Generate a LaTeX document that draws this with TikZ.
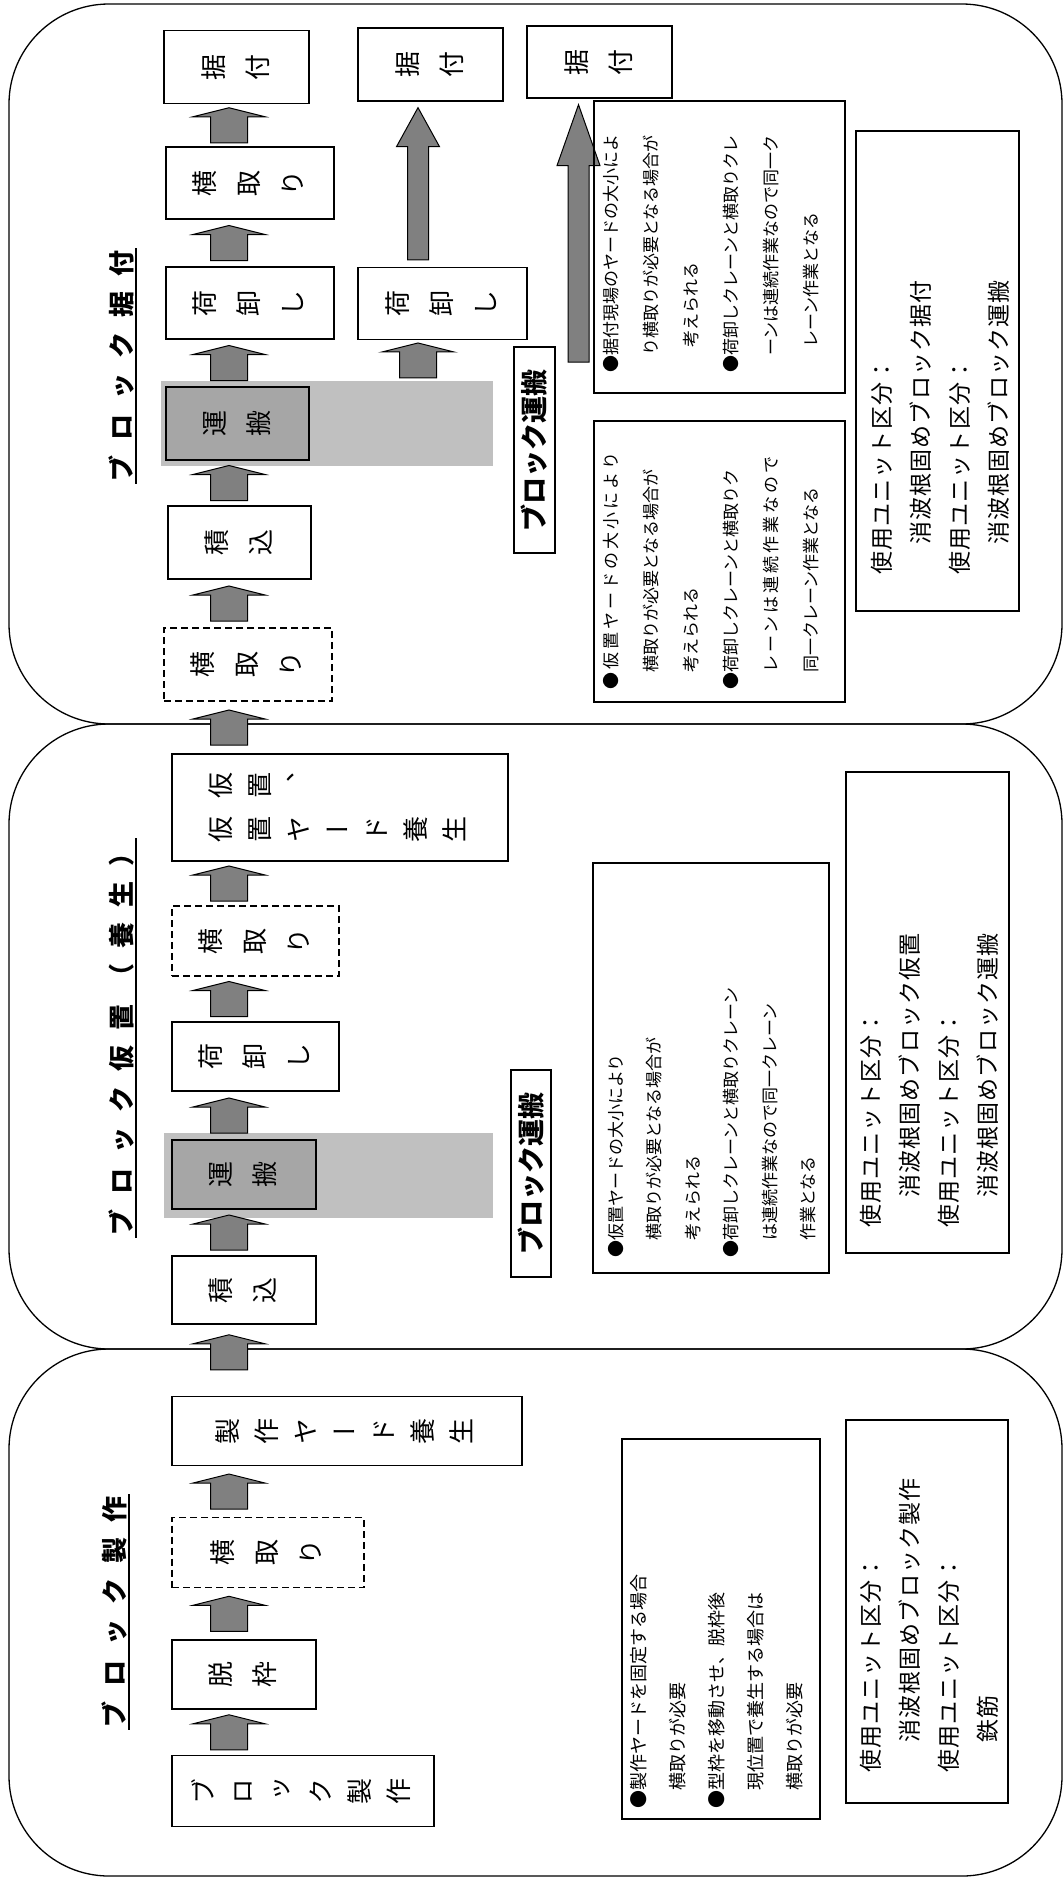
\documentclass[tikz,border=0pt]{standalone}
\usepackage{fontspec}
\usepackage{graphicx}
\setmainfont{Noto Sans CJK JP}
\newfontfamily\jp{Noto Sans CJK JP}
\newfontfamily\jptate[RawFeature=+vert]{Noto Sans CJK JP}
\usetikzlibrary{calc}

\definecolor{arrowgray}{HTML}{808080}
\definecolor{boxgray}{HTML}{A6A6A6}
\definecolor{bandgray}{HTML}{C0C0C0}

\newcommand{\tate}[1]{\rotatebox{90}{\begin{tabular}{@{}c@{}}#1\end{tabular}}}
\newcommand{\gp}{\hspace{15pt}}
\newcommand{\wide}[1]{{\addfontfeature{LetterSpace=18}#1}}
% block arrow, centred in the gap between two boxes
\newcommand{\blkarr}[4][0pt]{%
  \draw[blkarrow] let \p1=($(#2.north -| #4)!0.5!(#3.south -| #4)$) in
    (\x1-18.5pt,\y1-17.5pt+#1) -- (\x1-18.5pt,\y1+8.5pt+#1) -- (\x1-36pt,\y1+8.5pt+#1)
    -- (\x1,\y1+17.5pt+#1) -- (\x1+36pt,\y1+8.5pt+#1) -- (\x1+18.5pt,\y1+8.5pt+#1)
    -- (\x1+18.5pt,\y1-17.5pt+#1) -- cycle;}
% long slim arrow
\newcommand{\slimarr}[3]{%
  \draw[blkarrow] let \p1=(#1), \p2=(#2) in
    (\x2-10.5pt,\y1+7pt) -- (\x2-10.5pt,\y2-6pt-#3) -- (\x2-21.5pt,\y2-6pt-#3)
    -- (\x2,\y2-6pt) -- (\x2+21.5pt,\y2-6pt-#3) -- (\x2+10.5pt,\y2-6pt-#3)
    -- (\x2+10.5pt,\y1+7pt) -- cycle;}

\tikzset{
  panel/.style={draw, line width=1.3pt, rounded corners=100pt},
  flowbox/.style={draw, line width=1.3pt, fill=white, inner sep=0pt,
    font=\jptate\fontsize{26}{44}\selectfont},
  longbox/.style={flowbox, font=\jptate\fontsize{26}{39}\selectfont},
  dashbox/.style={flowbox, dash pattern=on 7pt off 4pt},
  carrybox/.style={flowbox, fill=boxgray},
  band/.style={fill=bandgray, inner sep=0pt},
  blkarrow/.style={draw, line width=1pt, fill=arrowgray},
  notebox/.style={draw, line width=1.8pt, inner sep=0pt},
  unitbox/.style={draw, line width=1.3pt, inner sep=0pt},
  notetext/.style={rotate=90, anchor=north west, align=left, inner sep=0pt,
    font=\jp\fontsize{17}{40}\selectfont},
  unittext/.style={rotate=90, anchor=north west, align=left, inner sep=0pt,
    font=\jp\fontsize{23}{39}\selectfont\addfontfeature{LetterSpace=5}},
  title/.style={inner sep=2pt, font=\jp\bfseries\fontsize{26}{30}\selectfont},
  labelbox/.style={draw, line width=1.3pt, inner sep=0pt,
    font=\jp\bfseries\fontsize{27}{30}\selectfont},
}

\begin{document}
\begin{tikzpicture}[x=1pt, y=-1pt]
  \useasboundingbox (0,0) rectangle (1064,1879);

  \coordinate (c1) at (229,0);
  \coordinate (c2) at (418,0);
  \coordinate (c3) at (578.5,0);
  \coordinate (c3low) at (578.5,369);

  % panels
  \draw[panel] (9,4) rectangle (1062,724);
  \draw[panel] (9,724) rectangle (1062,1349);
  \draw[panel] (9,1349) rectangle (1062,1876);

  % titles
  \node[title] (t3) at (121,366) {\rotatebox{90}{ブ\gp ロ\gp ッ\gp ク\gp 据\gp 付}};
  \node[title] (t2) at (121,1038) {\rotatebox{90}{ブ\gp ロ\gp ッ\gp ク\gp 仮\gp 置\gp （\gp 養\gp 生\gp ）}};
  \node[title] (t1) at (114,1612) {\rotatebox{90}{ブ\gp ロ\gp ッ\gp ク\gp 製\gp 作}};
  \draw[line width=1.3pt] (t3.north east) -- (t3.south east);
  \draw[line width=1.3pt] (t2.north east) -- (t2.south east);
  \draw[line width=1.3pt] (t1.north east) -- (t1.south east);

  % transport bands
  \node[band, minimum width=332pt, minimum height=85pt] (band3) at (327,423.5) {};
  \node[band, minimum width=329pt, minimum height=85pt] (band2) at (328.5,1175.5) {};

  % block setting
  \node[flowbox, minimum width=145pt, minimum height=73pt] (sue1) at (236.5,67) {\tate{据\\付}};
  \node[flowbox, minimum width=168pt, minimum height=72pt] (yoko1) at (250,183) {\tate{横\\取\\り}};
  \node[flowbox, minimum width=168pt, minimum height=72pt] (nioro1) at (250,303) {\tate{荷\\卸\\し}};
  \node[carrybox, minimum width=143pt, minimum height=73pt] (unpan1) at (237.5,423.5) {\tate{運\\搬}};
  \node[flowbox, minimum width=143pt, minimum height=73pt] (tumi1) at (239.5,542.5) {\tate{積\\込}};
  \node[dashbox, minimum width=168pt, minimum height=73pt] (yoko2) at (248,664.5) {\tate{横\\取\\り}};
  \node[flowbox, minimum width=145pt, minimum height=73pt] (sue2) at (430.5,64.5) {\tate{据\\付}};
  \node[flowbox, minimum width=169pt, minimum height=72pt] (nioro2) at (442.5,303.5) {\tate{荷\\卸\\し}};
  \node[flowbox, minimum width=145pt, minimum height=72pt] (sue3) at (599.5,62) {\tate{据\\付}};
  \node[labelbox, minimum width=41pt, minimum height=206pt] (lab3) at (534.5,450) {\rotatebox{90}{ブロック運搬}};

  % block temporary storage
  \node[longbox, minimum width=336pt, minimum height=107pt] (kari) at (340,807.5)
    {\rotatebox{90}{\begin{tabular}{@{}c@{\hspace{18pt}}c@{}}
      仮&仮\\ 置&置\\ ヤ&、\\ ー&\\ ド&\\ 養&\\ 生&
    \end{tabular}}};
  \node[dashbox, minimum width=167pt, minimum height=70pt] (yoko3) at (255.5,941) {\tate{横\\取\\り}};
  \node[flowbox, minimum width=167pt, minimum height=69pt] (nioro3) at (255.5,1056.5) {\tate{荷\\卸\\し}};
  \node[carrybox, minimum width=144pt, minimum height=69pt] (unpan2) at (244,1174.5) {\tate{運\\搬}};
  \node[flowbox, minimum width=144pt, minimum height=68pt] (tumi2) at (244,1290) {\tate{積\\込}};
  \node[labelbox, minimum width=40pt, minimum height=207pt] (lab2) at (531,1173.5) {\rotatebox{90}{ブロック運搬}};

  % block making
  \node[longbox, minimum width=350pt, minimum height=69pt] (yard) at (347,1431) {\tate{製\\作\\ヤ\\ー\\ド\\養\\生}};
  \node[dashbox, minimum width=192pt, minimum height=70pt] (yoko4) at (268,1552.5) {\tate{横\\取\\り}};
  \node[flowbox, minimum width=144pt, minimum height=69pt] (datu) at (244,1674.5) {\tate{脱\\枠}};
  \node[longbox, minimum width=262pt, minimum height=71pt] (seisaku) at (303,1791) {\tate{ブ\\ロ\\ッ\\ク\\製\\作}};

  % arrows
  \blkarr{yoko1}{sue1}{c1}
  \blkarr{nioro1}{yoko1}{c1}
  \blkarr{unpan1}{nioro1}{c1}
  \blkarr{tumi1}{unpan1}{c1}
  \blkarr{yoko2}{tumi1}{c1}
  \blkarr{kari}{yoko2}{c1}
  \blkarr{yoko3}{kari}{c1}
  \blkarr{nioro3}{yoko3}{c1}
  \blkarr{unpan2}{nioro3}{c1}
  \blkarr{tumi2}{unpan2}{c1}
  \blkarr[8pt]{yard}{tumi2}{c1}
  \blkarr{yoko4}{yard}{c1}
  \blkarr{datu}{yoko4}{c1}
  \blkarr{seisaku}{datu}{c1}
  \blkarr{band3}{nioro2}{c2}
  \slimarr{nioro2.north -| c2}{sue2.south -| c2}{39pt}
  \slimarr{c3low}{sue3.south -| c3}{61pt}

  % notes
  \node[notebox, minimum width=251pt, minimum height=292pt] (noteA) at (719.5,247) {};
  \node[notetext] (noteAt) at (603,373) {●据付現場のヤードの大小によ\\
    　り横取りが必要となる場合が\\
    \hspace*{1.5em}考えられる\\
    ●荷卸しクレーンと横取りクレ\\
    　ーンは連続作業なので同一ク\\
    \hspace*{1.5em}レーン作業となる};
  \node[notebox, minimum width=251pt, minimum height=281pt] (noteB) at (719.5,561.5) {};
  \node[notetext] (noteBt) at (603,690) {\wide{●仮置ヤードの大小により}\\
    　横取りが必要となる場合が\\
    　考えられる\\
    ●荷卸しクレーンと横取りク\\
    　\wide{レーンは連続作業なので}\\
    　同一クレーン作業となる};
  \node[notebox, minimum width=236pt, minimum height=410pt] (noteC) at (711,1068) {};
  \node[notetext, font=\jp\fontsize{17}{38.5}\selectfont] (noteCt) at (608,1258) {●仮置ヤードの大小により\\
    　横取りが必要となる場合が\\
    　考えられる\\
    ●荷卸しクレーンと横取りクレーン\\
    　は連続作業なので同一クレーン\\
    　作業となる};
  \node[notebox, minimum width=198pt, minimum height=380pt] (noteD) at (721,1629) {};
  \node[notetext, font=\jp\fontsize{18}{39}\selectfont] (noteDt) at (630,1809) {●製作ヤードを固定する場合\\
    　横取りが必要\\
    ●型枠を移動させ、脱枠後\\
    　現位置で養生する場合は\\
    　横取りが必要};

  % units
  \node[unitbox, minimum width=163pt, minimum height=480pt] (unit3) at (937.5,371) {};
  \node[unittext] (unit3t) at (871,575) {使用ユニット区分：\\
    \hspace*{30pt}消波根固めブロック据付\\
    使用ユニット区分：\\
    \hspace*{30pt}消波根固めブロック運搬};
  \node[unitbox, minimum width=163pt, minimum height=481pt] (unit2) at (927.5,1012.5) {};
  \node[unittext] (unit2t) at (860,1228) {使用ユニット区分：\\
    \hspace*{30pt}消波根固めブロック仮置\\
    使用ユニット区分：\\
    \hspace*{30pt}消波根固めブロック運搬};
  \node[unitbox, minimum width=162pt, minimum height=383pt] (unit1) at (927,1611.5) {};
  \node[unittext] (unit1t) at (860,1773) {使用ユニット区分：\\
    \hspace*{30pt}消波根固めブロック製作\\
    使用ユニット区分：\\
    \hspace*{30pt}鉄筋};
\end{tikzpicture}
\end{document}
